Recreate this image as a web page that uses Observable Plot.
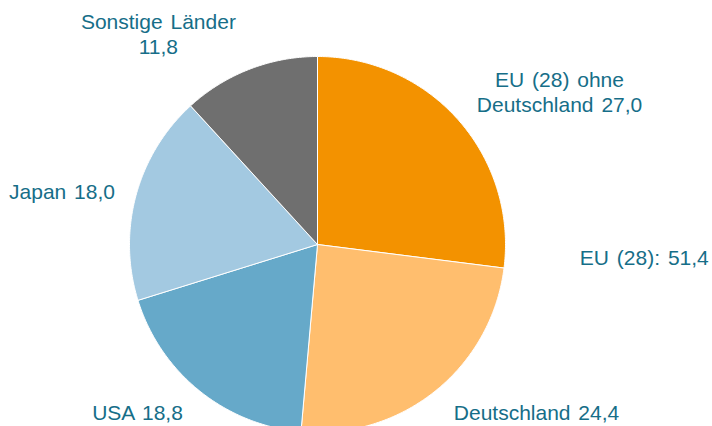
<!DOCTYPE html>
<html>
<head>
<meta charset="utf-8">
<script src="https://cdn.jsdelivr.net/npm/d3@7"></script>
<script src="https://cdn.jsdelivr.net/npm/@observablehq/plot@0.6"></script>
<style>
  html, body { margin: 0; padding: 0; background: #fff; }
  #chart svg { display: block; }
  #chart svg text { word-spacing: 2px; }
</style>
</head>
<body>
<div id="chart"></div>
<script>
// ---- data ----
const categories = ["EU (28) ohne Deutschland", "Deutschland", "USA", "Japan", "Sonstige Länder"];
const values = [27.0, 24.4, 18.8, 18.0, 11.8];
const labels = ["EU (28) ohne\nDeutschland 27,0", "Deutschland 24,4", "USA 18,8", "Japan 18,0", "Sonstige Länder\n11,8"];
const colors = ["#F39200", "#FFBE6E", "#66A9C9", "#A3C9E1", "#6F6F6F"];
const groupLabel = "EU (28): 51,4";
const groupMembers = ["EU (28) ohne Deutschland", "Deutschland"];

// ---- layout ----
const W = 712, H = 426;
const cx = 317, cy = 244, R = 188; // pixel center & radius
const labelOffsets = [[101, -29], [101, 21], [-62, 21], [-74, -5], [-91, -36]];
const groupOffset = [139, 4];

// pie angles (clockwise from top)
const pie = d3.pie().sort(null).value(d => d.value).startAngle(0).endAngle(2 * Math.PI);
const slices = pie(categories.map((c, i) => ({cat: c, value: values[i]})));

// polygon points for each slice (unit radius)
const pts = [];
slices.forEach(s => {
  const n = Math.max(2, Math.ceil((s.endAngle - s.startAngle) / (Math.PI / 360)));
  pts.push({cat: s.data.cat, x: 0, y: 0});
  for (let k = 0; k <= n; k++) {
    const a = s.startAngle + (s.endAngle - s.startAngle) * k / n;
    pts.push({cat: s.data.cat, x: Math.sin(a), y: Math.cos(a)});
  }
  pts.push({cat: s.data.cat, x: 0, y: 0});
});

const labelData = slices.map((s, i) => {
  const m = (s.startAngle + s.endAngle) / 2;
  return {text: labels[i], x: Math.sin(m), y: Math.cos(m), dx: labelOffsets[i][0], dy: labelOffsets[i][1]};
});
const grp = slices.filter(s => groupMembers.includes(s.data.cat));
const gm = (d3.min(grp, s => s.startAngle) + d3.max(grp, s => s.endAngle)) / 2;
labelData.push({text: groupLabel, x: Math.sin(gm), y: Math.cos(gm), dx: groupOffset[0], dy: groupOffset[1]});

const chart = Plot.plot({
  width: W,
  height: H,
  margin: 0,
  style: {fontFamily: "'Liberation Sans', Arial, sans-serif", background: "#fff"},
  x: {domain: [-cx / R, (W - cx) / R], axis: null},
  y: {domain: [-(H - cy) / R, cy / R], axis: null},
  color: {domain: categories, range: colors},
  marks: [
    Plot.line(pts, {x: "x", y: "y", z: "cat", fill: "cat", stroke: "#fff", strokeWidth: 1, strokeLinejoin: "round"}),
    ...labelData.map(d => Plot.text([d], {
      x: "x", y: "y", text: "text", dx: d.dx, dy: d.dy,
      textAnchor: "middle", lineAnchor: "middle", lineHeight: 1.2,
      fontSize: 21, fill: "#166E88"
    }))
  ]
});
document.getElementById("chart").appendChild(chart);
</script>
</body>
</html>
